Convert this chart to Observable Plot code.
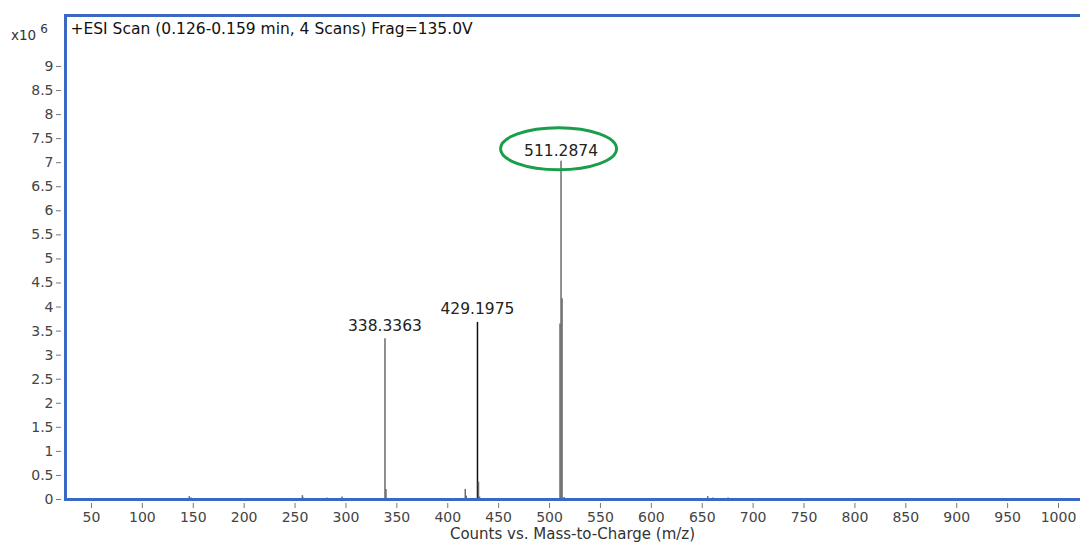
<!DOCTYPE html>
<html>
<head>
<meta charset="utf-8">
<script src="https://cdn.jsdelivr.net/npm/d3@7"></script>
<script src="https://cdn.jsdelivr.net/npm/@observablehq/plot@0.6"></script>
<style>
  html, body { margin: 0; padding: 0; background: #fff; }
  #wrap { position: relative; width: 1080px; height: 544px; font-family: "DejaVu Sans", sans-serif; }
  #exp { position: absolute; left: 11px; top: 23px; font-size: 13.5px; color: #333; }
  #exp sup { font-size: 12px; position: relative; top: -1px; margin-left: 4px; }
</style>
</head>
<body>
<div id="wrap"><div id="exp">x10<sup>6</sup></div></div>
<script>
// m/z values and intensities (x10^6 counts)
const mz = [60.0, 104.1, 130.1, 146.1, 148.0, 152.1, 219.1, 257.2, 258.2, 275.2, 281.2, 296.2, 318.3, 337.3, 338.3363, 339.3, 360.3, 416.2, 417.2, 418.2, 429.1975, 430.2, 431.2, 441.2, 510.28, 511.2874, 512.29, 514.3, 638.4, 652.4, 655.4, 660.4, 675.4];
const intensity = [0.02, 0.02, 0.02, 0.06, 0.03, 0.02, 0.02, 0.08, 0.03, 0.02, 0.03, 0.05, 0.02, 0.02, 3.34, 0.21, 0.02, 0.02, 0.21, 0.07, 3.68, 0.36, 0.05, 0.02, 3.65, 7.03, 4.17, 0.04, 0.02, 0.02, 0.06, 0.03, 0.03];
const labelMz = [338.3363, 429.1975, 511.2874];
const labelText = ["338.3363", "429.1975", "511.2874"];
const labelHeight = [3.34, 3.68, 7.03];
const xTicks = d3.range(50, 1001, 50);
const yTicks = d3.range(0, 9.01, 0.5);
const title = "+ESI Scan (0.126-0.159 min, 4 Scans) Frag=135.0V";
const xLabel = "Counts vs. Mass-to-Charge (m/z)";

const peaks = mz.map((m, i) => ({mz: m, y: intensity[i], main: m === 429.1975}));
const labels = labelMz.map((m, i) => ({mz: m, text: labelText[i], y: labelHeight[i]}));

const blue = "#3a68c2";
const font = "'DejaVu Sans', sans-serif";
const plot = Plot.plot({
  width: 1080,
  height: 544,
  marginLeft: 64,
  marginRight: 0,
  marginTop: 14,
  marginBottom: 45,
  style: {fontFamily: font, fontSize: "14px", color: "#333", background: "white"},
  x: {domain: [23.5, 1021.6]},
  y: {domain: [0, 10.08]},
  marks: [
    Plot.ruleX(peaks, {x: "mz", y1: 0, y2: "y", stroke: d => d.main ? "#111" : "#6b6b6b", strokeWidth: 1.5}),
    Plot.text(labels.filter(d => d.text !== "511.2874"), {x: "mz", y: "y", text: "text", dy: -13, fontSize: 15.5, fill: "#222"}),
    Plot.text(labels.filter(d => d.text === "511.2874"), {x: "mz", y: "y", text: "text", dy: -10, fontSize: 15.5, fill: "#222"}),
    Plot.axisX({ticks: xTicks, tickSize: 5, dy: 4, tickPadding: 4, label: null, stroke: "#777", fill: "#444", fontSize: 14, tickFormat: d3.format("d")}),
    Plot.axisY({ticks: yTicks, tickSize: 5, dx: -3, tickPadding: 3, label: null, stroke: "#777", fill: "#444", fontSize: 14, tickFormat: d3.format("")}),
    Plot.ruleY([0], {stroke: blue, strokeWidth: 3}),
    Plot.ruleY([10.08], {stroke: blue, strokeWidth: 3, dy: 1}),
    Plot.ruleX([23.5], {stroke: blue, strokeWidth: 3, dx: 1}),
    Plot.text([title], {frameAnchor: "top-left", dx: 6, dy: 8, fontSize: 15.5, fill: "#111", textAnchor: "start", lineAnchor: "top"}),
    Plot.text([xLabel], {frameAnchor: "bottom", dy: 35, fontSize: 15, fill: "#333", lineAnchor: "middle"})
  ]
});
document.getElementById("wrap").appendChild(plot);

// green ellipse around the base peak label
const sx = plot.scale("x"), sy = plot.scale("y");
const bp = labels.find(d => d.text === "511.2874");
d3.select(plot).append("ellipse")
  .attr("cx", sx.apply(bp.mz) - 2)
  .attr("cy", sy.apply(bp.y) - 12)
  .attr("rx", 58)
  .attr("ry", 21)
  .attr("fill", "none")
  .attr("stroke", "#1a9e4c")
  .attr("stroke-width", 3);
</script>
</body>
</html>
